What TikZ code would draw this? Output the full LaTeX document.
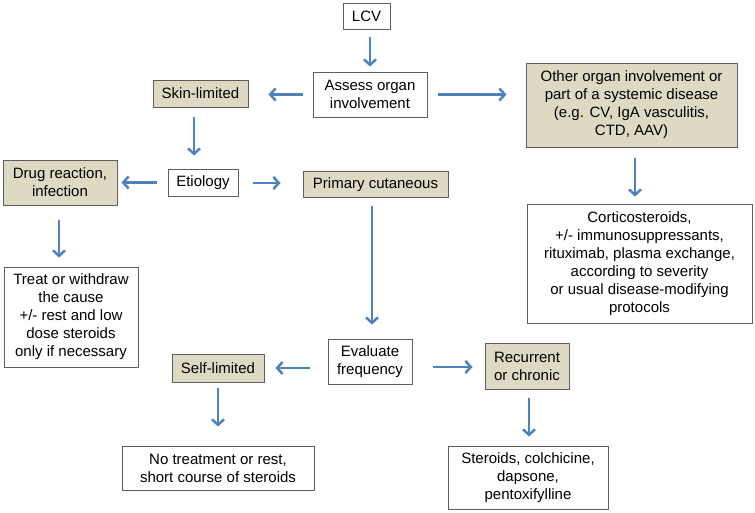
\documentclass[tikz,border=0pt]{standalone}
\usepackage{fontspec}
\setmainfont{Liberation Sans}
\usetikzlibrary{arrows.meta,calc}
\definecolor{tanfill}{RGB}{221,217,195}
\definecolor{arrblue}{RGB}{79,129,189}
\definecolor{boxline}{RGB}{95,95,95}
\begin{document}
\begin{tikzpicture}[x=1pt,y=-1pt,
  box/.style={draw=boxline,line width=0.9pt,fill=white,inner sep=0pt,align=center,
    font=\fontsize{15}{18}\selectfont},
  tanbox/.style={box,fill=tanfill},
  arr/.style={draw=arrblue,line width=2.5pt,-{Straight Barb[length=5.5pt,width=12pt]}}]
\useasboundingbox (0,0) rectangle (755,513);
\node[box,minimum width=47,minimum height=26] (lcv) at (366.5,16) {LCV};
\node[box,minimum width=114,minimum height=45] (assess) at (370,94.5) {Assess organ\\involvement};
\node[tanbox,minimum width=95,minimum height=27] (skin) at (200.5,93.5) {Skin-limited};
\node[tanbox,minimum width=211,minimum height=84] (other) at (631.5,105) {Other organ involvement or\\part of a systemic disease\\(e.g. CV, IgA vasculitis,\\CTD, AAV)};
\node[box,minimum width=70,minimum height=27] (etio) at (203,182.5) {Etiology};
\node[tanbox,minimum width=114,minimum height=45] (drug) at (60,182.5) {Drug reaction,\\infection};
\node[tanbox,minimum width=145,minimum height=26] (prim) at (375.5,184.5) {Primary cutaneous};
\node[box,minimum width=134,minimum height=100] (treat) at (71,317) {Treat or withdraw\\the cause\\+/- rest and low\\dose steroids\\only if necessary};
\node[box,minimum width=225,minimum height=119] (cort) at (639.5,263.5) {Corticosteroids,\\+/- immunosuppressants,\\rituximab, plasma exchange,\\according to severity\\or usual disease-modifying\\protocols};
\node[box,minimum width=84,minimum height=45] (eval) at (370,361.5) {Evaluate\\frequency};
\node[tanbox,minimum width=92,minimum height=28] (self) at (218,368) {Self-limited};
\node[tanbox,minimum width=84,minimum height=46] (recur) at (527,366) {Recurrent\\or chronic};
\node[box,minimum width=192,minimum height=44] (notreat) at (218,468) {No treatment or rest,\\short course of steroids};
\node[box,minimum width=160,minimum height=63] (ster) at (528,477.5) {Steroids, colchicine,\\dapsone,\\pentoxifylline};
% connector anchor points
\coordinate (c1) at ($(lcv.south)+(3.5,0)$);
\coordinate (c4) at ($(skin.south)+(-6.5,0)$);
\coordinate (c6) at ($(etio.east)+(0,0.5)$);
\coordinate (c7) at ($(drug.south)+(-1,0)$);
\coordinate (c8) at ($(prim.south)+(-3.5,0)$);
\coordinate (c9) at ($(other.south)+(3.5,0)$);
\coordinate (c10) at ($(eval.west)+(0,6.5)$);
\coordinate (c11) at ($(eval.east)+(0,5.5)$);
\coordinate (c13) at ($(recur.south)+(2,0)$);
% connectors
\draw[arr,shorten <=8pt,shorten >=5pt] (c1) -- (c1 |- assess.north);
\draw[arr,shorten <=10pt,shorten >=20pt] (assess.west) -- (assess.west -| skin.east);
\draw[arr,shorten <=11pt,shorten >=19pt] (assess.east) -- (assess.east -| other.west);
\draw[arr,shorten <=10pt,shorten >=13pt] (c4) -- (c4 |- etio.north);
\draw[arr,shorten <=11pt,shorten >=4pt] (etio.west) -- (drug.east);
\draw[arr,shorten <=15pt,shorten >=22pt] (c6) -- (c6 -| prim.west);
\draw[arr,shorten <=15pt,shorten >=9pt] (c7) -- (c7 |- treat.north);
\draw[arr,shorten <=8pt,shorten >=14pt] (c8) -- (c8 |- eval.north);
\draw[arr,shorten <=11pt,shorten >=7pt] (c9) -- (c9 |- cort.north);
\draw[arr,shorten <=18pt,shorten >=11pt] (c10) -- (c10 -| self.east);
\draw[arr,shorten <=21pt,shorten >=12pt] (c11) -- (c11 -| recur.west);
\draw[arr,shorten <=6pt,shorten >=19pt] (self.south) -- (notreat.north);
\draw[arr,shorten <=9pt,shorten >=9pt] (c13) -- (c13 |- ster.north);
\end{tikzpicture}
\end{document}
